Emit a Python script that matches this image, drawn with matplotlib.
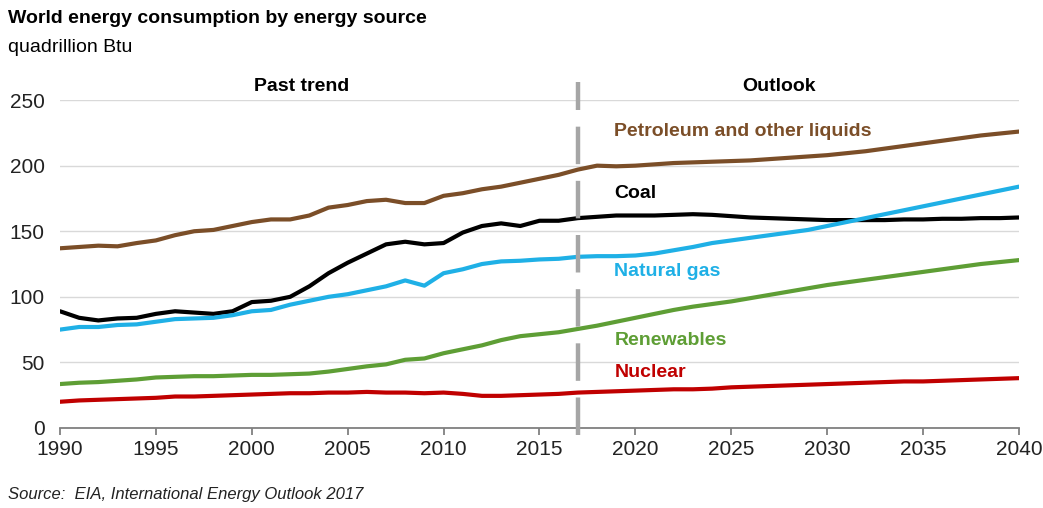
import matplotlib.pyplot as plt

plt.rcParams['font.family'] = ['Liberation Sans', 'DejaVu Sans']
plt.rcParams['lines.scale_dashes'] = False

years = list(range(1990, 2041))

petroleum = [137, 138, 139, 138.5, 141, 143, 147, 150, 151, 154,
             157, 159, 159, 162, 168, 170, 173, 174, 171.5, 171.5,
             177, 179, 182, 184, 187, 190, 193, 197, 200, 199.5,
             200, 201, 202, 202.5, 203, 203.5, 204, 205, 206, 207,
             208, 209.5, 211, 213, 215, 217, 219, 221, 223, 224.5, 226]
coal = [89, 84, 82, 83.5, 84, 87, 89, 88, 87, 89,
        96, 97, 100, 108, 118, 126, 133, 140, 142, 140,
        141, 149, 154, 156, 154, 158, 158, 160, 161, 162,
        162, 162, 162.5, 163, 162.5, 161.5, 160.5, 160, 159.5, 159,
        158.5, 158.5, 158.5, 158.5, 159, 159, 159.5, 159.5, 160, 160, 160.5]
natural_gas = [75, 77, 77, 78.5, 79, 81, 83, 83.5, 84, 86,
               89, 90, 94, 97, 100, 102, 105, 108, 112.5, 108.5,
               118, 121, 125, 127, 127.5, 128.5, 129, 130.5, 131, 131,
               131.5, 133, 135.5, 138, 141, 143, 145, 147, 149, 151,
               154, 157, 160, 163, 166, 169, 172, 175, 178, 181, 184]
renewables = [33.5, 34.5, 35, 36, 37, 38.5, 39, 39.5, 39.5, 40,
              40.5, 40.5, 41, 41.5, 43, 45, 47, 48.5, 52, 53,
              57, 60, 63, 67, 70, 71.5, 73, 75.5, 78, 81,
              84, 87, 90, 92.5, 94.5, 96.5, 99, 101.5, 104, 106.5,
              109, 111, 113, 115, 117, 119, 121, 123, 125, 126.5, 128]
nuclear = [20, 21, 21.5, 22, 22.5, 23, 24, 24, 24.5, 25,
           25.5, 26, 26.5, 26.5, 27, 27, 27.5, 27, 27, 26.5,
           27, 26, 24.5, 24.5, 25, 25.5, 26, 27, 27.5, 28,
           28.5, 29, 29.5, 29.5, 30, 31, 31.5, 32, 32.5, 33,
           33.5, 34, 34.5, 35, 35.5, 35.5, 36, 36.5, 37, 37.5, 38]

series = [
    ("Petroleum and other liquids", petroleum, "#7b4e28", 226),
    ("Coal", coal, "#000000", 179),
    ("Natural gas", natural_gas, "#1fb0e6", 119),
    ("Renewables", renewables, "#5e9e35", 67),
    ("Nuclear", nuclear, "#c00000", 42.5),
]

fig = plt.figure(figsize=(10.43, 5.08), dpi=100)
ax = fig.add_axes([0.0575, 0.1575, 0.9195, 0.6455])

for name, vals, col, ly in series:
    ax.plot(years, vals, color=col, lw=3, solid_capstyle='round', zorder=3)
    ax.text(2018.9, ly, name, color=col, fontsize=14, fontweight='bold',
            va='center', ha='left')

ax.set_xlim(1990, 2040)
ax.set_ylim(0, 250)
ax.set_xticks(range(1990, 2041, 5))
ax.set_yticks(range(0, 251, 50))
ax.yaxis.grid(True, color='#d9d9d9', lw=1)
ax.set_axisbelow(True)
for s in ['top', 'right', 'left']:
    ax.spines[s].set_visible(False)
ax.spines['bottom'].set_color('#808080')
ax.spines['bottom'].set_linewidth(1.3)
ax.tick_params(axis='y', length=0, labelsize=15, pad=11, colors='#222222')
ax.tick_params(axis='x', length=5, width=1.3, color='#808080',
               labelsize=15, colors='#222222', pad=4)

ax.axvline(2017, ymin=-0.02, ymax=1.055, color='#a6a6a6', lw=3.2,
           linestyle=(0, (27, 12)), clip_on=False, zorder=4)

ax.text(2002.6, 260, "Past trend", ha='center', va='center',
        fontsize=14, fontweight='bold')
ax.text(2027.5, 260, "Outlook", ha='center', va='center',
        fontsize=14, fontweight='bold')

fig.text(0.008, 0.963, "World energy consumption by energy source",
         fontsize=14, fontweight='bold', va='center')
fig.text(0.008, 0.907, "quadrillion Btu", fontsize=14, va='center')
fig.text(0.008, 0.027, "Source:  EIA, International Energy Outlook 2017",
         fontsize=12, style='italic', va='center', color='#222222')

fig.savefig("out.png", dpi=100)
